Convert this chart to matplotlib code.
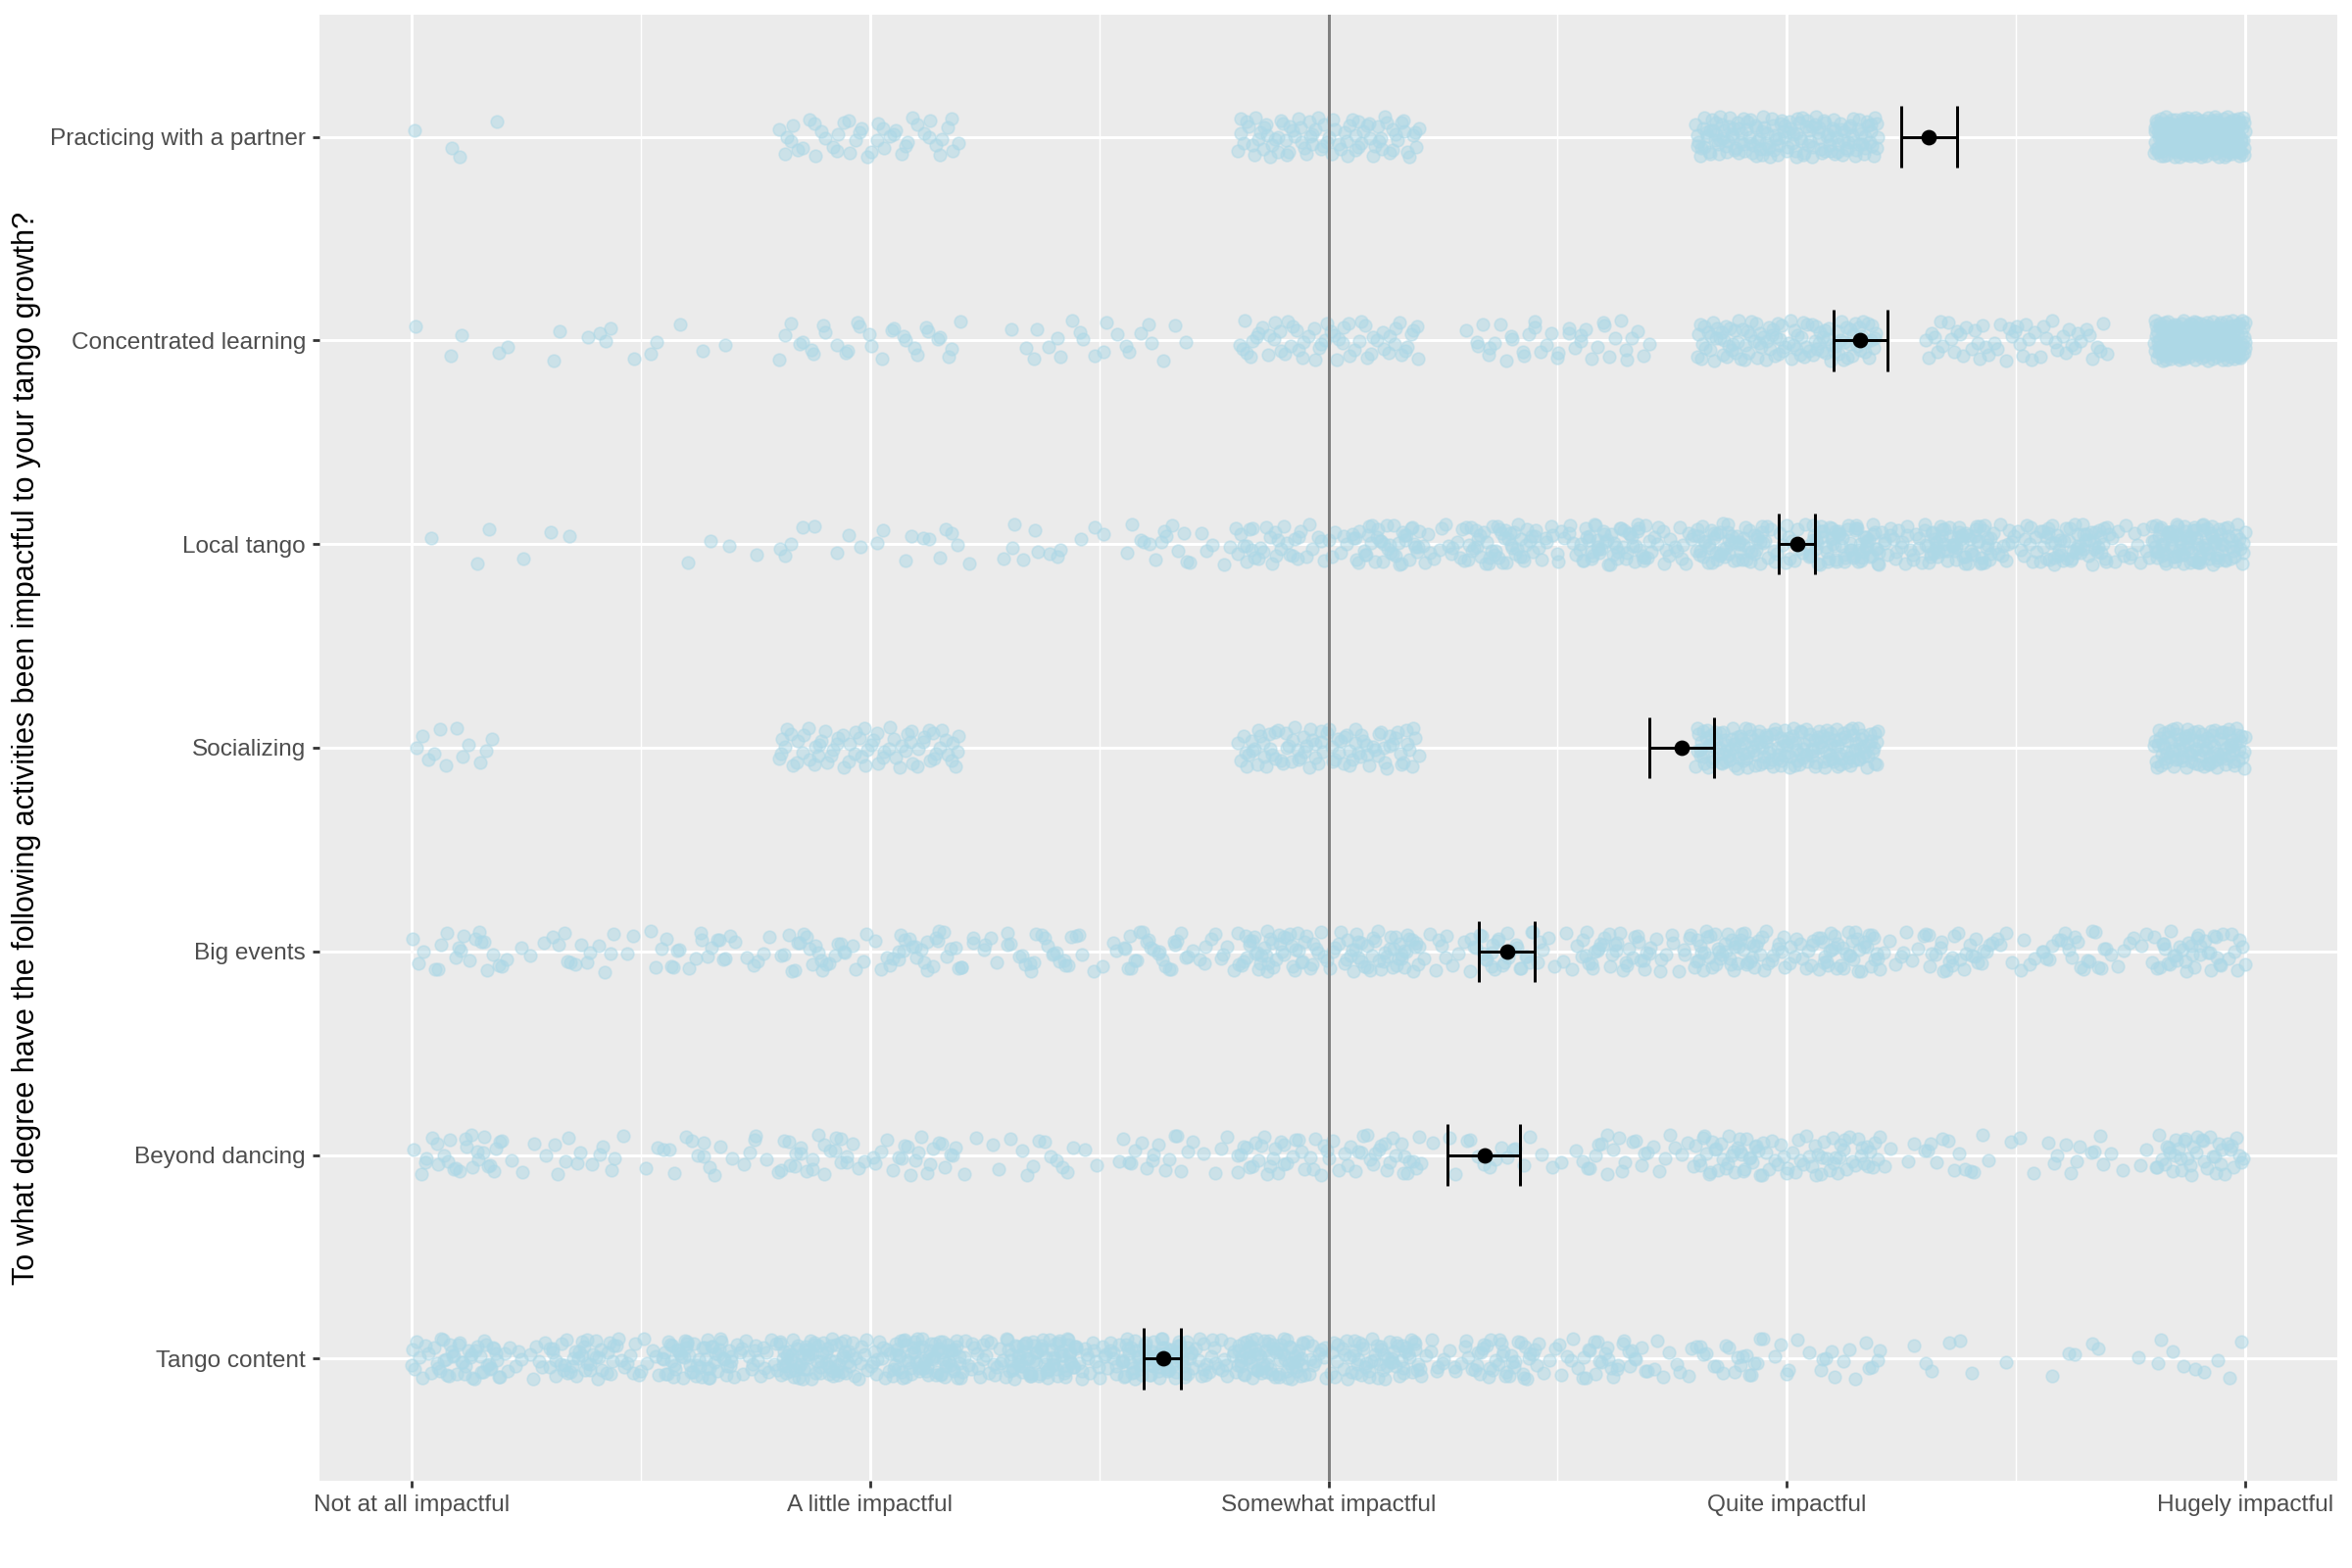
import numpy as np
import matplotlib
matplotlib.use("Agg")
import matplotlib.pyplot as plt

plt.rcParams['font.family'] = ['Liberation Sans', 'DejaVu Sans']

# ---------------- data ----------------
categories = ["Tango content", "Beyond dancing", "Big events", "Socializing",
              "Local tango", "Concentrated learning", "Practicing with a partner"]
x_tick_labels = ["Not at all impactful", "A little impactful", "Somewhat impactful",
                 "Quite impactful", "Hugely impactful"]

quarter_grid = [0, 0.25, 0.5, 0.75, 1, 1.25, 1.5, 1.75, 2, 2.25, 2.5, 2.75, 3, 3.25, 3.5, 3.75, 4]

tango_content_values = quarter_grid
tango_content_counts = [65, 50, 60, 85, 100, 95, 100, 100, 90, 55, 45, 28, 25, 8, 6, 5, 14]

beyond_dancing_values = quarter_grid
beyond_dancing_counts = [45, 15, 12, 22, 32, 16, 14, 22, 45, 18, 15, 30, 65, 20, 12, 18, 70]

big_events_values = quarter_grid
big_events_counts = [30, 15, 18, 25, 35, 28, 28, 38, 70, 42, 35, 52, 70, 40, 32, 30, 60]

socializing_values = [0, 1, 2, 3, 4]
socializing_counts = [24, 70, 90, 180, 200]

local_tango_values = quarter_grid
local_tango_counts = [6, 2, 2, 5, 12, 9, 14, 22, 50, 60, 65, 70, 85, 95, 80, 70, 160]

concentrated_values = [0, 0.25, 0.5, 1, 1.5, 2, 2.5, 3, 3.5, 4]
concentrated_counts = [7, 4, 10, 30, 22, 60, 40, 115, 55, 360]

practicing_values = [0, 1, 2, 3, 4]
practicing_counts = [8, 45, 85, 160, 400]

# mean and interval, bottom -> top (same order as categories)
means = [1.639, 2.340, 2.389, 2.770, 3.022, 3.159, 3.309]
ci_low = [1.598, 2.259, 2.329, 2.700, 2.981, 3.101, 3.249]
ci_high = [1.678, 2.418, 2.449, 2.840, 3.061, 3.220, 3.371]

series = [
    (tango_content_values, tango_content_counts),
    (beyond_dancing_values, beyond_dancing_counts),
    (big_events_values, big_events_counts),
    (socializing_values, socializing_counts),
    (local_tango_values, local_tango_counts),
    (concentrated_values, concentrated_counts),
    (practicing_values, practicing_counts),
]

# ---------------- helpers ----------------
def halton(idx, base):
    idx = np.asarray(idx, dtype=np.int64)
    res = np.zeros(idx.shape, dtype=float)
    f = 1.0
    i = idx.copy()
    while np.any(i > 0):
        f /= base
        res += f * (i % base)
        i //= base
    return res

JIT_W = 0.2
JIT_H = 0.1

# ---------------- figure ----------------
W, H = 2400, 1600
fig = plt.figure(figsize=(12, 8), dpi=200)
fig.patch.set_facecolor('white')
ax = fig.add_axes([326 / W, 1 - 1511 / H, (2385 - 326) / W, (1511 - 15) / H])
ax.set_facecolor('#EBEBEB')
for s in ax.spines.values():
    s.set_visible(False)

ax.set_xlim(-0.2, 4.2)
ax.set_ylim(0.4, 7.6)

ax.set_xticks([0, 1, 2, 3, 4])
ax.set_xticklabels(x_tick_labels)
ax.set_xticks([0.5, 1.5, 2.5, 3.5], minor=True)
ax.set_yticks(range(1, len(categories) + 1))
ax.set_yticklabels(categories)

ax.grid(which='major', color='white', linewidth=1.07)
ax.grid(which='minor', axis='x', color='white', linewidth=0.53)
ax.set_axisbelow(True)

ax.tick_params(axis='both', which='major', length=2.6, width=1.0, color='#333333',
               labelsize=8.8, labelcolor='#4D4D4D', pad=2.4)
ax.tick_params(axis='both', which='minor', length=0)

offset = 1
for k, (vals, cnts) in enumerate(series):
    pos = k + 1
    x = np.repeat(np.asarray(vals, dtype=float), cnts)
    n = len(x)
    idx = np.arange(offset, offset + n)
    offset += n
    u = halton(idx, 2)
    w = halton(idx, 3)
    xj = x + (2 * u - 1) * JIT_W
    yj = pos + (2 * w - 1) * JIT_H
    keep = (xj >= 0) & (xj <= 4)
    ax.scatter(xj[keep], yj[keep], s=21, color='#ADD8E6', alpha=0.5,
               edgecolors='#ADD8E6', linewidths=0.6, zorder=2)

ax.axvline(2, color='#7F7F7F', linewidth=1.07, zorder=3)

ypos = np.arange(1, len(categories) + 1)
ax.hlines(ypos, ci_low, ci_high, color='black', linewidth=1.07, zorder=4)
ax.vlines(ci_low, ypos - 0.15, ypos + 0.15, color='black', linewidth=1.07, zorder=4)
ax.vlines(ci_high, ypos - 0.15, ypos + 0.15, color='black', linewidth=1.07, zorder=4)
ax.scatter(means, ypos, s=22, color='black', zorder=5)

fig.text(27 / W, 1 - 763 / H,
         "To what degree have the following activities been impactful to your tango growth?",
         rotation=90, ha='center', va='center', fontsize=11, color='black')

fig.savefig("out.png", dpi=200, facecolor='white')
